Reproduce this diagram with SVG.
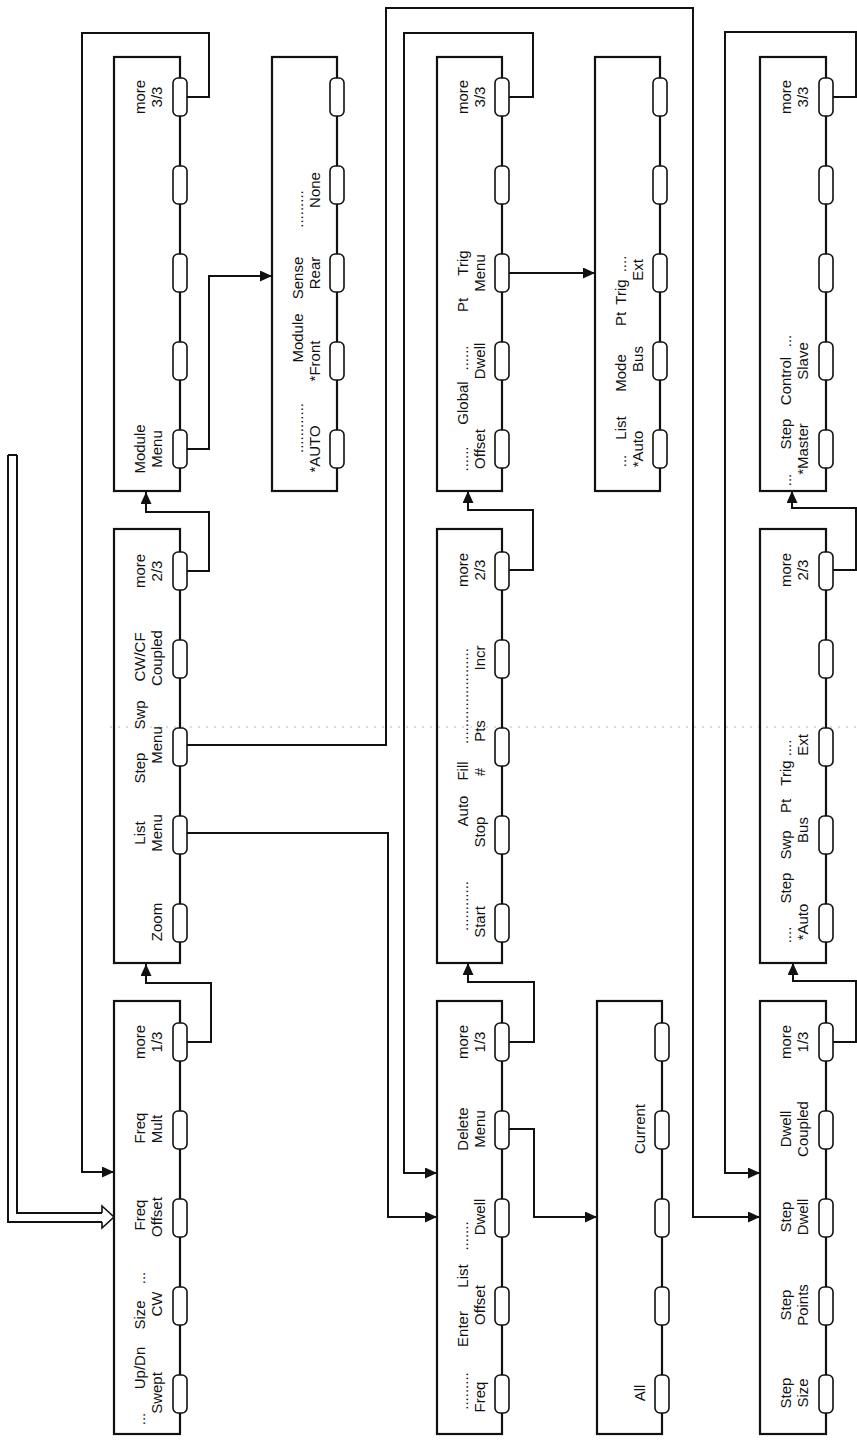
<svg xmlns="http://www.w3.org/2000/svg" width="857" height="1454" viewBox="0 0 857 1454">
<style>
.bx{fill:none;stroke:#111;stroke-width:2.2}
.k{fill:#fff;stroke:#111;stroke-width:1.6}
.c{fill:none;stroke:#111;stroke-width:2}
.t{font-family:"Liberation Sans",Arial,sans-serif;font-size:15px;fill:#111;text-anchor:middle}
.art{fill:none;stroke:#bbb;stroke-width:1;stroke-dasharray:2 6}
</style>
<defs>
<marker id="arr" viewBox="0 0 12 11" refX="12" refY="5.5" markerWidth="12" markerHeight="11" markerUnits="userSpaceOnUse" orient="auto">
<path d="M0,0 L12,5.5 L0,11 Z" fill="#111"/>
</marker>
<g id="keys5top">
<rect class="k" x="-7" y="78" width="14" height="38" rx="5"/>
<rect class="k" x="-7" y="166" width="14" height="38" rx="5"/>
<rect class="k" x="-7" y="254" width="14" height="38" rx="5"/>
<rect class="k" x="-7" y="342" width="14" height="38" rx="5"/>
<rect class="k" x="-7" y="430" width="14" height="38" rx="5"/>
</g>
</defs>
<rect width="857" height="1454" fill="#fff"/>
<path class="art" d="M110,727 H857"/>

<g id="connectors">
<path class="c" d="M187,1042 H211 V983 H146 V964" marker-end="url(#arr)"/>
<path class="c" d="M187,571 H209 V512 H146 V492" marker-end="url(#arr)"/>
<path class="c" d="M187,97 H209 V33 H82 V1172 H114" marker-end="url(#arr)"/>
<path class="c" d="M187,449 H209 V276 H272" marker-end="url(#arr)"/>
<path class="c" d="M187,833 H388 V1217 H437" marker-end="url(#arr)"/>
<path class="c" d="M187,745 H386 V8 H693 V1217 H760" marker-end="url(#arr)"/>
<path class="c" d="M509,1042 H534 V982 H468 V963" marker-end="url(#arr)"/>
<path class="c" d="M509,1129 H534 V1217 H597" marker-end="url(#arr)"/>
<path class="c" d="M509,570 H533 V510 H468 V491" marker-end="url(#arr)"/>
<path class="c" d="M509,273 H595" marker-end="url(#arr)"/>
<path class="c" d="M509,97 H533 V33 H404 V1173 H437" marker-end="url(#arr)"/>
<path class="c" d="M833,1042 H856 V981 H793 V963" marker-end="url(#arr)"/>
<path class="c" d="M833,570 H856 V508 H792 V491" marker-end="url(#arr)"/>
<path class="c" d="M833,97 H856 V32 H725 V1173 H760" marker-end="url(#arr)"/>
<g id="hollow-arrow">
<path class="c" stroke-width="1.6" d="M8,455 H17 M8,455 V1222 H102 M17,455 V1213 H102"/>
<path fill="#fff" stroke="#111" stroke-width="1.6" d="M102,1213 V1206 L114,1217 L102,1228 V1222"/>
</g>
</g>

<g id="menuA">
<rect class="bx" x="114" y="1001" width="66" height="433"/>
<use href="#keys5top" transform="translate(180,945)"/>
<text class="t" transform="translate(145,1419) rotate(-90)">...</text>
<text class="t" transform="translate(145,1368) rotate(-90)">Up/Dn</text>
<text class="t" transform="translate(145,1315) rotate(-90)">Size</text>
<text class="t" transform="translate(145,1278) rotate(-90)">...</text>
<text class="t" transform="translate(162,1393) rotate(-90)">Swept</text>
<text class="t" transform="translate(162,1304) rotate(-90)">CW</text>
<text class="t" transform="translate(145,1215) rotate(-90)">Freq</text>
<text class="t" transform="translate(162,1217) rotate(-90)">Offset</text>
<text class="t" transform="translate(145,1128) rotate(-90)">Freq</text>
<text class="t" transform="translate(162,1129) rotate(-90)">Mult</text>
<text class="t" transform="translate(145,1042) rotate(-90)">more</text>
<text class="t" transform="translate(162,1042) rotate(-90)">1/3</text>
</g>

<g id="menuB">
<rect class="bx" x="114" y="529" width="66" height="434"/>
<use href="#keys5top" transform="translate(180,474)"/>
<text class="t" transform="translate(162,922) rotate(-90)">Zoom</text>
<text class="t" transform="translate(145,833) rotate(-90)">List</text>
<text class="t" transform="translate(162,833) rotate(-90)">Menu</text>
<text class="t" transform="translate(145,768) rotate(-90)">Step</text>
<text class="t" transform="translate(145,715) rotate(-90)">Swp</text>
<text class="t" transform="translate(162,745) rotate(-90)">Menu</text>
<text class="t" transform="translate(145,657) rotate(-90)">CW/CF</text>
<text class="t" transform="translate(162,658) rotate(-90)">Coupled</text>
<text class="t" transform="translate(145,571) rotate(-90)">more</text>
<text class="t" transform="translate(162,571) rotate(-90)">2/3</text>
</g>

<g id="menuC">
<rect class="bx" x="114" y="57" width="66" height="434"/>
<use href="#keys5top" transform="translate(180,0)"/>
<text class="t" transform="translate(145,449) rotate(-90)">Module</text>
<text class="t" transform="translate(162,449) rotate(-90)">Menu</text>
<text class="t" transform="translate(145,97) rotate(-90)">more</text>
<text class="t" transform="translate(162,97) rotate(-90)">3/3</text>
</g>

<g id="menuD">
<rect class="bx" x="272" y="57" width="65" height="434"/>
<use href="#keys5top" transform="translate(337,0)"/>
<text class="t" transform="translate(303,428) rotate(-90)">............</text>
<text class="t" transform="translate(303,338) rotate(-90)">Module</text>
<text class="t" transform="translate(303,278) rotate(-90)">Sense</text>
<text class="t" transform="translate(303,209) rotate(-90)">.........</text>
<text class="t" transform="translate(320,449) rotate(-90)">*AUTO</text>
<text class="t" transform="translate(320,361) rotate(-90)">*Front</text>
<text class="t" transform="translate(320,273) rotate(-90)">Rear</text>
<text class="t" transform="translate(320,190) rotate(-90)">None</text>
</g>

<g id="menuE">
<rect class="bx" x="437" y="1001" width="65" height="433"/>
<use href="#keys5top" transform="translate(502,945)"/>
<text class="t" transform="translate(468,1391) rotate(-90)">.........</text>
<text class="t" transform="translate(468,1329) rotate(-90)">Enter</text>
<text class="t" transform="translate(468,1276) rotate(-90)">List</text>
<text class="t" transform="translate(468,1236) rotate(-90)">.......</text>
<text class="t" transform="translate(485,1397) rotate(-90)">Freq</text>
<text class="t" transform="translate(485,1305) rotate(-90)">Offset</text>
<text class="t" transform="translate(485,1217) rotate(-90)">Dwell</text>
<text class="t" transform="translate(468,1129) rotate(-90)">Delete</text>
<text class="t" transform="translate(485,1129) rotate(-90)">Menu</text>
<text class="t" transform="translate(468,1042) rotate(-90)">more</text>
<text class="t" transform="translate(485,1042) rotate(-90)">1/3</text>
</g>

<g id="menuF">
<rect class="bx" x="597" y="1001" width="65" height="433"/>
<use href="#keys5top" transform="translate(662,945)"/>
<text class="t" transform="translate(645,1393) rotate(-90)">All</text>
<text class="t" transform="translate(645,1129) rotate(-90)">Current</text>
</g>

<g id="menuG">
<rect class="bx" x="437" y="529" width="65" height="434"/>
<use href="#keys5top" transform="translate(502,474)"/>
<text class="t" transform="translate(468,906) rotate(-90)">............</text>
<text class="t" transform="translate(468,811) rotate(-90)">Auto</text>
<text class="t" transform="translate(468,771) rotate(-90)">Fill</text>
<text class="t" transform="translate(468,696) rotate(-90)">.......................</text>
<text class="t" transform="translate(485,922) rotate(-90)">Start</text>
<text class="t" transform="translate(485,832) rotate(-90)">Stop</text>
<text class="t" transform="translate(485,772) rotate(-90)">#</text>
<text class="t" transform="translate(485,731) rotate(-90)">Pts</text>
<text class="t" transform="translate(485,658) rotate(-90)">Incr</text>
<text class="t" transform="translate(468,570) rotate(-90)">more</text>
<text class="t" transform="translate(485,570) rotate(-90)">2/3</text>
</g>

<g id="menuH">
<rect class="bx" x="437" y="57" width="65" height="434"/>
<use href="#keys5top" transform="translate(502,0)"/>
<text class="t" transform="translate(468,459) rotate(-90)">......</text>
<text class="t" transform="translate(468,403) rotate(-90)">Global</text>
<text class="t" transform="translate(468,358) rotate(-90)">......</text>
<text class="t" transform="translate(468,305) rotate(-90)">Pt</text>
<text class="t" transform="translate(468,263) rotate(-90)">Trig</text>
<text class="t" transform="translate(485,449) rotate(-90)">Offset</text>
<text class="t" transform="translate(485,361) rotate(-90)">Dwell</text>
<text class="t" transform="translate(485,273) rotate(-90)">Menu</text>
<text class="t" transform="translate(468,97) rotate(-90)">more</text>
<text class="t" transform="translate(485,97) rotate(-90)">3/3</text>
</g>

<g id="menuI">
<rect class="bx" x="595" y="57" width="65" height="434"/>
<use href="#keys5top" transform="translate(660,0)"/>
<text class="t" transform="translate(626,461) rotate(-90)">...</text>
<text class="t" transform="translate(626,428) rotate(-90)">List</text>
<text class="t" transform="translate(626,373) rotate(-90)">Mode</text>
<text class="t" transform="translate(626,319) rotate(-90)">Pt</text>
<text class="t" transform="translate(626,292) rotate(-90)">Trig</text>
<text class="t" transform="translate(626,264) rotate(-90)">....</text>
<text class="t" transform="translate(643,449) rotate(-90)">*Auto</text>
<text class="t" transform="translate(643,359) rotate(-90)">Bus</text>
<text class="t" transform="translate(643,270) rotate(-90)">Ext</text>
</g>

<g id="menuJ">
<rect class="bx" x="760" y="1001" width="66" height="433"/>
<use href="#keys5top" transform="translate(826,945)"/>
<text class="t" transform="translate(791,1393) rotate(-90)">Step</text>
<text class="t" transform="translate(808,1393) rotate(-90)">Size</text>
<text class="t" transform="translate(791,1305) rotate(-90)">Step</text>
<text class="t" transform="translate(808,1305) rotate(-90)">Points</text>
<text class="t" transform="translate(791,1217) rotate(-90)">Step</text>
<text class="t" transform="translate(808,1217) rotate(-90)">Dwell</text>
<text class="t" transform="translate(791,1129) rotate(-90)">Dwell</text>
<text class="t" transform="translate(808,1129) rotate(-90)">Coupled</text>
<text class="t" transform="translate(791,1042) rotate(-90)">more</text>
<text class="t" transform="translate(808,1042) rotate(-90)">1/3</text>
</g>

<g id="menuK">
<rect class="bx" x="760" y="529" width="66" height="434"/>
<use href="#keys5top" transform="translate(826,474)"/>
<text class="t" transform="translate(791,935) rotate(-90)">....</text>
<text class="t" transform="translate(791,888) rotate(-90)">Step</text>
<text class="t" transform="translate(791,845) rotate(-90)">Swp</text>
<text class="t" transform="translate(791,806) rotate(-90)">Pt</text>
<text class="t" transform="translate(791,773) rotate(-90)">Trig</text>
<text class="t" transform="translate(791,748) rotate(-90)">....</text>
<text class="t" transform="translate(808,922) rotate(-90)">*Auto</text>
<text class="t" transform="translate(808,830) rotate(-90)">Bus</text>
<text class="t" transform="translate(808,745) rotate(-90)">Ext</text>
<text class="t" transform="translate(791,570) rotate(-90)">more</text>
<text class="t" transform="translate(808,570) rotate(-90)">2/3</text>
</g>

<g id="menuL">
<rect class="bx" x="760" y="57" width="66" height="434"/>
<use href="#keys5top" transform="translate(826,0)"/>
<text class="t" transform="translate(791,480) rotate(-90)">...</text>
<text class="t" transform="translate(791,434) rotate(-90)">Step</text>
<text class="t" transform="translate(791,381) rotate(-90)">Control</text>
<text class="t" transform="translate(791,341) rotate(-90)">...</text>
<text class="t" transform="translate(808,449) rotate(-90)">*Master</text>
<text class="t" transform="translate(808,361) rotate(-90)">Slave</text>
<text class="t" transform="translate(791,97) rotate(-90)">more</text>
<text class="t" transform="translate(808,97) rotate(-90)">3/3</text>
</g>
</svg>
